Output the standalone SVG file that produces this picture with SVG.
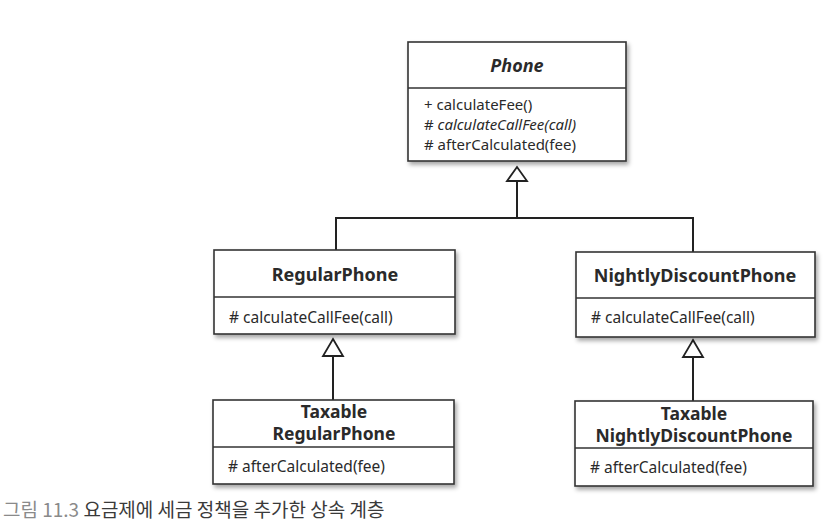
<svg xmlns="http://www.w3.org/2000/svg" width="838" height="527" viewBox="0 0 838 527">
<defs>
<filter id="sh" x="-10%" y="-10%" width="125%" height="130%">
<feDropShadow dx="2" dy="3" stdDeviation="2.2" flood-color="#000" flood-opacity="0.35"/>
</filter>
<style>
.box{fill:#fff;stroke:#333;stroke-width:1.6}
.div{stroke:#333;stroke-width:1.4}
.title{font-family:"Noto Sans","Open Sans",sans-serif;font-weight:bold;font-size:18px;fill:#2a2a2a;text-anchor:middle}
.t2{font-size:17.5px}
.m{font-family:"Noto Sans","Open Sans",sans-serif;font-size:15.5px;fill:#2a2a2a}
.mp{font-size:15px}
.ln{fill:none;stroke:#222;stroke-width:2}
.tri{fill:#fff;stroke:#222;stroke-width:1.8}
</style>
</defs>
<rect width="838" height="527" fill="#fff"/>
<g id="connectors">
<polyline class="ln" points="336,250 336,218 693,218 693,252"/>
<line class="ln" x1="517" y1="218" x2="517" y2="181"/>
<path class="tri" d="M517,167 L527,181 L507,181 Z"/>
<line class="ln" x1="333" y1="400" x2="333" y2="356"/>
<path class="tri" d="M333,339 L343,356 L323,356 Z"/>
<line class="ln" x1="693" y1="401" x2="693" y2="357"/>
<path class="tri" d="M693,340 L703,357 L683,357 Z"/>
</g>
<g id="phone">
<rect class="box" x="408" y="42" width="218" height="119" filter="url(#sh)"/>
<line class="div" x1="408" y1="88" x2="626" y2="88"/>
<text class="title" x="517" y="72" font-style="italic">Phone</text>
<text class="m mp" x="424" y="110">+ calculateFee()</text>
<text class="m mp" x="424" y="130"># <tspan font-style="italic">calculateCallFee(call)</tspan></text>
<text class="m mp" x="424" y="150"># afterCalculated(fee)</text>
</g>
<g id="regularPhone">
<rect class="box" x="214" y="250" width="241" height="84" filter="url(#sh)"/>
<line class="div" x1="214" y1="297" x2="455" y2="297"/>
<text class="title" x="335" y="281">RegularPhone</text>
<text class="m" x="229" y="323"># calculateCallFee(call)</text>
</g>
<g id="nightlyDiscountPhone">
<rect class="box" x="576" y="252" width="239" height="85" filter="url(#sh)"/>
<line class="div" x1="576" y1="298" x2="815" y2="298"/>
<text class="title" x="695" y="282">NightlyDiscountPhone</text>
<text class="m" x="591" y="323"># calculateCallFee(call)</text>
</g>
<g id="taxableRegularPhone">
<rect class="box" x="213" y="400" width="241" height="84" filter="url(#sh)"/>
<line class="div" x1="213" y1="447" x2="454" y2="447"/>
<text class="title t2" x="334" y="418">Taxable</text>
<text class="title t2" x="334" y="440">RegularPhone</text>
<text class="m" x="228" y="472"># afterCalculated(fee)</text>
</g>
<g id="taxableNightlyDiscountPhone">
<rect class="box" x="575" y="401" width="238" height="85" filter="url(#sh)"/>
<line class="div" x1="575" y1="448" x2="813" y2="448"/>
<text class="title t2" x="694" y="420">Taxable</text>
<text class="title t2" x="694" y="442">NightlyDiscountPhone</text>
<text class="m" x="590" y="473"># afterCalculated(fee)</text>
</g>
<g id="caption">
<text x="3" y="517" font-family="'Noto Sans CJK KR',sans-serif" font-size="19px" fill="#3a3a3a"><tspan fill="#8a8a8a">그림 11.3</tspan> 요금제에 세금 정책을 추가한 상속 계층</text>
</g>
</svg>
